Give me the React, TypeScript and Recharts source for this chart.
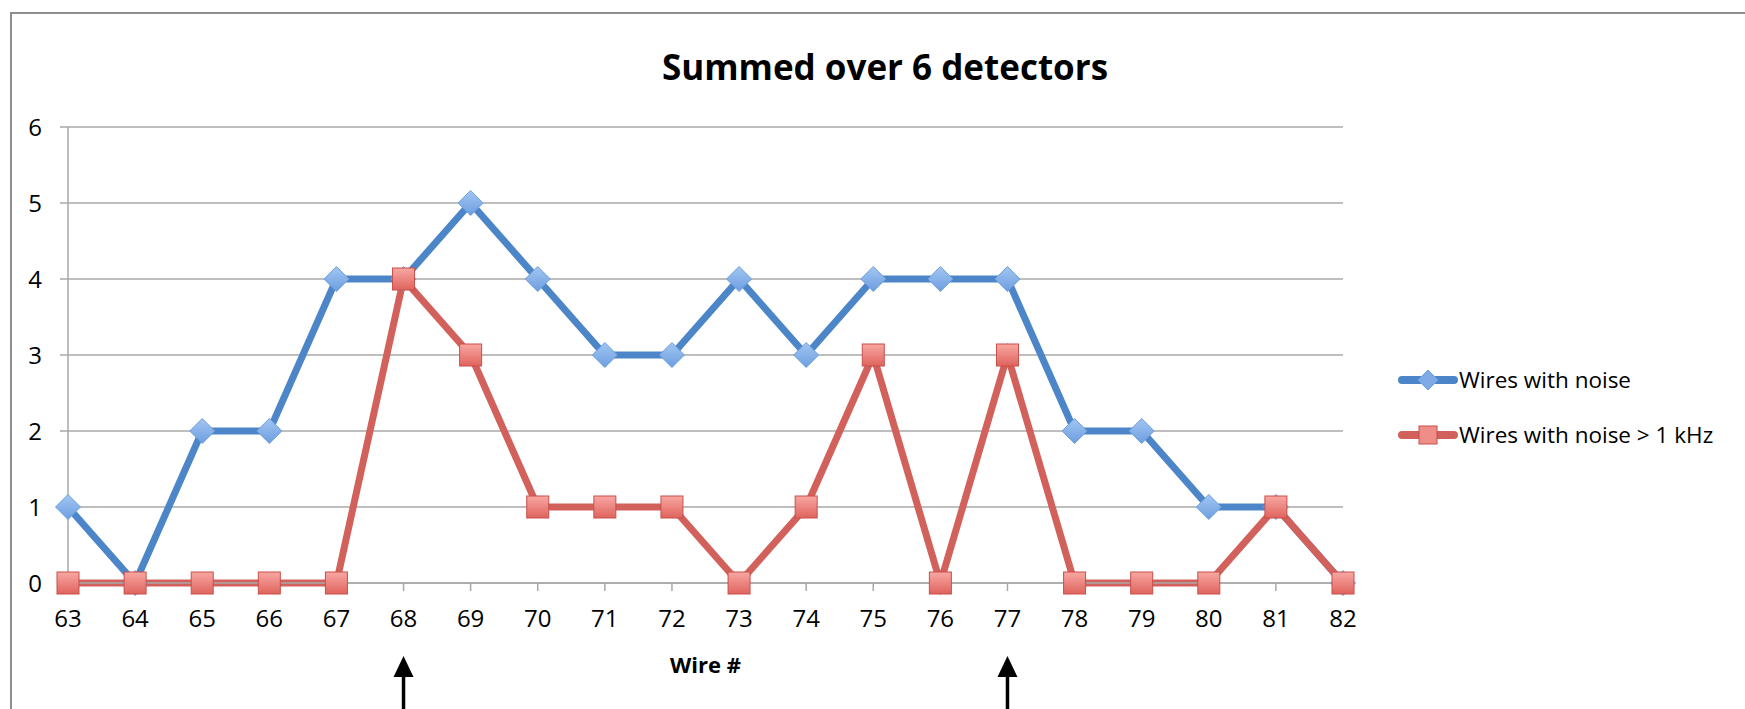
import React from "react";
import {
  LineChart,
  Line,
  XAxis,
  YAxis,
  CartesianGrid,
  Legend,
  ReferenceLine,
} from "recharts";

const wires = [63, 64, 65, 66, 67, 68, 69, 70, 71, 72, 73, 74, 75, 76, 77, 78, 79, 80, 81, 82];
const wiresWithNoise = [1, 0, 2, 2, 4, 4, 5, 4, 3, 3, 4, 3, 4, 4, 4, 2, 2, 1, 1, 0];
const wiresAbove1kHz = [0, 0, 0, 0, 0, 4, 3, 1, 1, 1, 0, 1, 3, 0, 3, 0, 0, 0, 1, 0];
const yTicks = [0, 1, 2, 3, 4, 5, 6];
const markedWires = [68, 77];

const data = wires.map((w, i) => ({
  wire: w,
  noise: wiresWithNoise[i],
  khz: wiresAbove1kHz[i],
}));

const BLUE = "#4d86c8";
const RED = "#d2615b";
const FONT = "'Open Sans', sans-serif";

function Diamond(props: any) {
  const { cx, cy } = props;
  if (cx == null || cy == null) return null;
  const r = 12.5;
  return (
    <path
      d={`M${cx},${cy - r} L${cx + r},${cy} L${cx},${cy + r} L${cx - r},${cy} Z`}
      fill="url(#blueMarker)"
      stroke="#6e9fdc"
      strokeWidth={1}
    />
  );
}

function Square(props: any) {
  const { cx, cy } = props;
  if (cx == null || cy == null) return null;
  const s = 22;
  return (
    <rect
      x={cx - s / 2}
      y={cy - s / 2}
      width={s}
      height={s}
      fill="url(#redMarker)"
      stroke="#c94f4a"
      strokeWidth={1}
    />
  );
}

function Arrow(props: any) {
  const { x1, y1, y2 } = props;
  const top = Math.min(y1, y2);
  const bottom = Math.max(y1, y2);
  return (
    <g>
      <line x1={x1} y1={top + 18} x2={x1} y2={bottom} stroke="#000" strokeWidth={3.5} />
      <polygon points={`${x1},${top} ${x1 - 10},${top + 21} ${x1 + 10},${top + 21}`} fill="#000" />
    </g>
  );
}

function LegendContent() {
  const items = [
    { label: "Wires with noise", color: BLUE, kind: "diamond" },
    { label: "Wires with noise > 1 kHz", color: RED, kind: "square" },
  ];
  return (
    <div style={{ fontFamily: FONT, fontSize: 22.5, color: "#000" }}>
      {items.map((it) => (
        <div key={it.label} style={{ display: "flex", alignItems: "center", height: 55 }}>
          <svg width={60} height={26} style={{ marginRight: 1 }}>
            <line x1={4} y1={13} x2={56} y2={13} stroke={it.color} strokeWidth={8} strokeLinecap="round" />
            {it.kind === "diamond" ? (
              <path d="M30,3 L40,13 L30,23 L20,13 Z" fill="#7eaae6" stroke="#6e9fdc" />
            ) : (
              <rect x={21} y={4} width={18} height={18} fill="#ef8e89" stroke="#c94f4a" />
            )}
          </svg>
          <span>{it.label}</span>
        </div>
      ))}
    </div>
  );
}

export default function App() {
  return (
    <div
      style={{
        position: "absolute",
        left: 0,
        top: 0,
        width: 1745,
        height: 709,
        overflow: "hidden",
        background: "#fff",
      }}
    >
      <div
        style={{
          position: "absolute",
          left: 10,
          top: 12,
          width: 1800,
          height: 800,
          border: "2px solid #8d8d8d",
        }}
      />
      <div
        style={{
          position: "absolute",
          left: 0,
          width: 1770,
          top: 43,
          textAlign: "center",
          fontFamily: FONT,
          fontWeight: 700,
          fontSize: 35,
          color: "#000",
        }}
      >
        Summed over 6 detectors
      </div>
      <div style={{ position: "absolute", left: 0, top: 0 }}>
        <LineChart
          width={1745}
          height={709}
          data={data}
          margin={{ top: 127, right: 402, bottom: 66, left: 8 }}
        >
          <defs>
            <linearGradient id="blueMarker" x1="0" y1="0" x2="0" y2="1">
              <stop offset="0%" stopColor="#a3c6f2" />
              <stop offset="100%" stopColor="#6c9ee0" />
            </linearGradient>
            <linearGradient id="redMarker" x1="0" y1="0" x2="0" y2="1">
              <stop offset="0%" stopColor="#f8a8a3" />
              <stop offset="100%" stopColor="#e0635d" />
            </linearGradient>
          </defs>
          <CartesianGrid vertical={false} stroke="#a8a8a8" strokeWidth={1.5} />
          <XAxis
            dataKey="wire"
            axisLine={{ stroke: "#a8a8a8", strokeWidth: 1.5 }}
            tickLine={{ stroke: "#a8a8a8", strokeWidth: 1.5 }}
            tickSize={8}
            tickMargin={19}
            height={60}
            tick={{ fill: "#000", fontSize: 24, fontFamily: FONT }}
            interval={0}
            label={{
              value: "Wire #",
              position: "bottom",
              offset: 14,
              fill: "#000",
              fontSize: 22,
              fontWeight: 700,
              fontFamily: FONT,
            }}
          />
          <YAxis
            width={60}
            domain={[0, 6]}
            ticks={yTicks}
            axisLine={{ stroke: "#a8a8a8", strokeWidth: 1.5 }}
            tickLine={{ stroke: "#a8a8a8", strokeWidth: 1.5 }}
            tickSize={8}
            tickMargin={18}
            tick={{ fill: "#000", fontSize: 24, fontFamily: FONT }}
          />
          <Legend
            layout="vertical"
            align="center"
            verticalAlign="middle"
            wrapperStyle={{ left: 1398, top: 352, width: 345 }}
            content={<LegendContent />}
          />
          <Line
            type="linear"
            dataKey="noise"
            name="Wires with noise"
            stroke={BLUE}
            strokeWidth={7}
            dot={<Diamond />}
            activeDot={false}
            isAnimationActive={false}
          />
          <Line
            type="linear"
            dataKey="khz"
            name="Wires with noise > 1 kHz"
            stroke={RED}
            strokeWidth={7}
            dot={<Square />}
            activeDot={false}
            isAnimationActive={false}
          />
          {markedWires.map((w) => (
            <ReferenceLine
              key={w}
              segment={[
                { x: w, y: -0.96 },
                { x: w, y: -1.8 },
              ]}
              ifOverflow="visible"
              shape={<Arrow />}
            />
          ))}
        </LineChart>
      </div>
    </div>
  );
}
